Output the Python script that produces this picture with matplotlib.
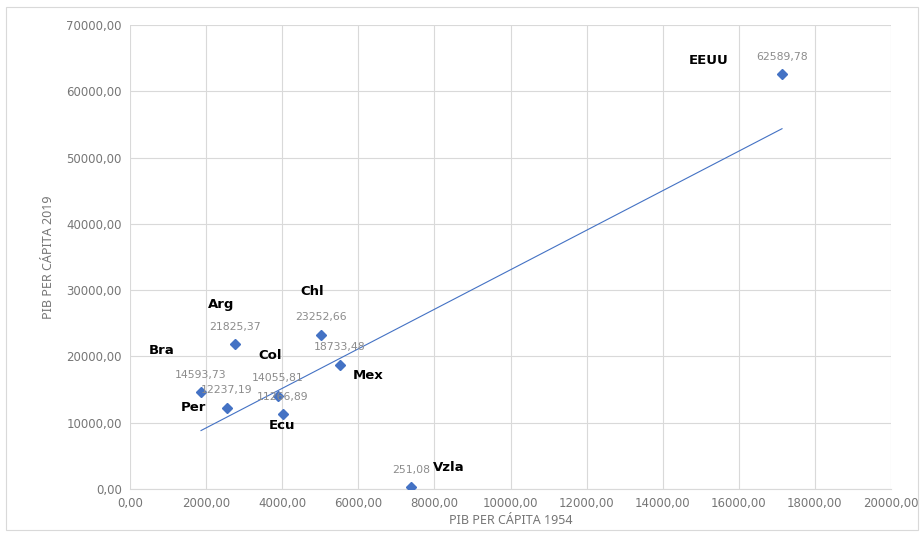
"""PIB per cápita 1954 vs 2019 — scatter with linear trendline."""

import matplotlib.pyplot as plt
import numpy as np
from matplotlib.patches import Rectangle
from matplotlib.ticker import FuncFormatter

# Data
countries = ["EEUU", "Vzla", "Chl", "Mex", "Arg", "Bra", "Per", "Col", "Ecu"]
pib_1954 = [17135, 7385, 5020, 5519, 2760, 1866, 2549, 3890, 4021]
pib_2019 = [62589.78, 251.08, 23252.66, 18733.48, 21825.37, 14593.73,
            12237.19, 14055.81, 11266.89]

# Offsets (points) for the bold country names relative to each marker
name_offsets = [(-53, 10), (27, 14), (-6, 31), (20, -8), (-10, 29),
                (-28, 30), (-24, 0), (-6, 29), (-1, -8)]

BLUE = "#4472C4"
GRID = "#d9d9d9"
TXT = "#767676"


def es_fmt(v, _pos=None):
    return f"{v:.2f}".replace(".", ",")


fig = plt.figure(figsize=(9.24, 5.36), dpi=100)
fig.patches.append(Rectangle((0.006, 0.012), 0.988, 0.975, transform=fig.transFigure,
                             fill=False, edgecolor="#d9d9d9", linewidth=0.8))
ax = fig.add_axes([0.1407, 0.0877, 0.8236, 0.8657])

x = np.array(pib_1954, dtype=float)
y = np.array(pib_2019, dtype=float)

# Linear trendline (least squares), drawn over the data range
slope, intercept = np.polyfit(x, y, 1)
xs = np.array([x.min(), x.max()])
ax.plot(xs, slope * xs + intercept, color=BLUE, linewidth=0.8, zorder=2)

ax.plot(x, y, linestyle="none", marker="D", markersize=5.5, color=BLUE, zorder=3)

for name, xi, yi, (dx, dy) in zip(countries, x, y, name_offsets):
    ax.annotate(es_fmt(yi), (xi, yi), xytext=(0, 9), textcoords="offset points",
                ha="center", va="bottom", fontsize=7.8, color="#8c8c8c", zorder=4)
    ax.annotate(name, (xi, yi), xytext=(dx, dy), textcoords="offset points",
                ha="center", va="center", fontsize=9.5, fontweight="bold",
                color="black", zorder=4)

ax.set_xlim(0, 20000)
ax.set_ylim(0, 70000)
ax.set_xticks(np.arange(0, 20001, 2000))
ax.set_yticks(np.arange(0, 70001, 10000))
ax.xaxis.set_major_formatter(FuncFormatter(es_fmt))
ax.yaxis.set_major_formatter(FuncFormatter(es_fmt))
ax.tick_params(length=0, labelsize=8.5, labelcolor=TXT, pad=6)

ax.grid(True, color=GRID, linewidth=0.8)
ax.set_axisbelow(True)
for side in ("top", "right", "left"):
    ax.spines[side].set_visible(False)
ax.spines["bottom"].set_color(GRID)

label_font = ["Liberation Sans Narrow", "DejaVu Sans Condensed", "Noto Sans"]
ax.set_xlabel("PIB PER CÁPITA 1954", fontsize=9, color=TXT, family=label_font, labelpad=3)
ax.set_ylabel("PIB PER CÁPITA 2019", fontsize=9, color=TXT, family=label_font, labelpad=8)

fig.savefig("out.png", dpi=100, facecolor="white")
